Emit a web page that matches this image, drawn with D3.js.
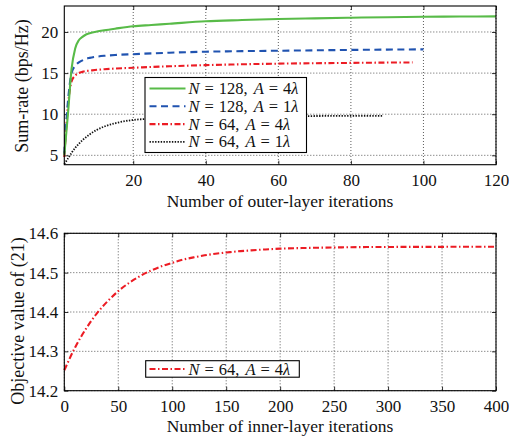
<!DOCTYPE html>
<html><head><meta charset="utf-8">
<script src="https://cdn.jsdelivr.net/npm/d3@7"></script>
<style>
body{margin:0;background:#fff;}
svg{display:block;font-family:"Liberation Serif","Times New Roman",serif;}
</style></head>
<body>
<svg id="c" width="509" height="436"></svg>
<script>
// ---------- data (top panel) ----------
const xGreen = [1,2,3,4,5,6,7,8,10,12,15,20,25,30,40,50,60,70,80,90,100,110,120];
const yGreen = [5.0,10.0,15.5,18.0,19.0,19.4,19.7,19.85,20.05,20.2,20.4,20.7,20.85,21.0,21.3,21.45,21.58,21.66,21.74,21.8,21.85,21.88,21.9];
const xBlue = [1,2,3,4,5,6,7,8,10,12,15,20,25,30,40,50,60,70,80,90,100];
const yBlue = [5.2,11.5,15.0,15.9,16.3,16.55,16.75,16.85,17.0,17.1,17.2,17.3,17.4,17.48,17.6,17.67,17.72,17.77,17.82,17.86,17.89];
const xRed = [1,2,3,4,5,6,7,8,10,12,15,20,25,30,40,50,60,70,80,90,97];
const yRed = [4.8,11.0,14.0,14.7,15.0,15.15,15.25,15.3,15.4,15.47,15.55,15.65,15.75,15.83,15.97,16.07,16.15,16.2,16.24,16.28,16.3];
const xBlack = [1,2,3,4,5,6,7,8,10,12,15,20,25,30,40,50,60,70,80,89];
const yBlack = [3.95,4.6,5.3,5.9,6.4,6.85,7.2,7.55,8.1,8.5,8.9,9.3,9.45,9.55,9.65,9.7,9.75,9.78,9.8,9.8];
const topXTicks = [20,40,60,80,100,120];
const topYTicks = [5,10,15,20];
const topLegend = [["N","128","4"],["N","128","1"],["N","64","4"],["N","64","1"]];

// ---------- data (bottom panel) ----------
const xInner = [0,10,20,30,40,50,60,70,80,90,100,110,120,130,140,150,160,170,180,190,200,220,240,260,280,300,350,400];
const yInner = [14.252,14.310,14.357,14.396,14.427,14.453,14.474,14.491,14.505,14.516,14.525,14.533,14.539,14.544,14.548,14.551,14.554,14.556,14.558,14.5595,14.561,14.5625,14.5636,14.5644,14.565,14.5653,14.5656,14.566];
const botXTicks = [0,50,100,150,200,250,300,350,400];
const botYTicks = [14.2,14.3,14.4,14.5,14.6];
const botLegend = [["N","64","4"]];

const svg = d3.select("#c");

function panel(cfg){
  const {L,R,T,B,xd,yd,xt,yt,yfmt} = cfg;
  const x = d3.scaleLinear().domain(xd).range([L,R]);
  const y = d3.scaleLinear().domain(yd).range([B,T]);
  const g = svg.append("g");
  g.append("rect").attr("x",L).attr("y",T).attr("width",R-L).attr("height",B-T).attr("fill","#fff");
  g.selectAll(".gx").data(xt).enter().append("line")
    .attr("x1",d=>x(d)).attr("x2",d=>x(d)).attr("y1",T).attr("y2",B)
    .attr("stroke","#333").attr("stroke-width",0.8).attr("stroke-dasharray","1,2");
  g.selectAll(".gy").data(yt).enter().append("line")
    .attr("y1",d=>y(d)).attr("y2",d=>y(d)).attr("x1",L).attr("x2",R)
    .attr("stroke","#333").attr("stroke-width",0.8).attr("stroke-dasharray","1,2");
  const ax = d3.axisBottom(x).tickValues(xt).tickSizeInner(-4).tickSizeOuter(0).tickPadding(9);
  const ay = d3.axisLeft(y).tickValues(yt).tickSizeInner(-4).tickSizeOuter(0).tickPadding(6).tickFormat(yfmt);
  const gx = g.append("g").attr("transform",`translate(0,${B})`).call(ax);
  const gy = g.append("g").attr("transform",`translate(${L},0)`).call(ay);
  const gx2 = g.append("g").attr("transform",`translate(0,${T})`).call(d3.axisTop(x).tickValues(xt).tickSizeInner(-4).tickSizeOuter(0).tickFormat(""));
  const gy2 = g.append("g").attr("transform",`translate(${R},0)`).call(d3.axisRight(y).tickValues(yt).tickSizeInner(-4).tickSizeOuter(0).tickFormat(""));
  [gx,gy,gx2,gy2].forEach(a=>{
    a.select(".domain").remove();
    a.selectAll("line").attr("stroke","#000").attr("stroke-width",0.8);
    a.selectAll("text").attr("font-size",17).attr("font-family","Liberation Serif").attr("fill","#111");
  });
  return {x,y,g};
}

function frame(L,R,T,B){
  svg.append("rect").attr("x",L).attr("y",T).attr("width",R-L).attr("height",B-T)
    .attr("fill","none").attr("stroke","#000").attr("stroke-width",1.1);
}

function mathLabel(sel, item){
  sel.append("tspan").attr("font-style","italic").text(item[0]);
  sel.append("tspan").attr("dx",5).text("=");
  sel.append("tspan").attr("dx",5).text(item[1] + ",");
  sel.append("tspan").attr("dx",6).attr("font-style","italic").text("A");
  sel.append("tspan").attr("dx",5).text("=");
  sel.append("tspan").attr("dx",5).text(item[2]);
  sel.append("tspan").attr("font-style","italic").text("λ");
}

const styles = [
  {c:"#58bb48", d:null, w:2.1},
  {c:"#2053b0", d:"7,4.5", w:2.1},
  {c:"#ec1c24", d:"6,2.5,1.5,2.5", w:2.1},
  {c:"#111", d:"1.4,1.4", w:1.8}
];

// ---------- top panel ----------
const P1 = panel({L:64.3,R:496,T:6,B:164.7,xd:[1,120],yd:[3.86,23.16],xt:topXTicks,yt:topYTicks,yfmt:d3.format("d")});
const series = [[xGreen,yGreen],[xBlue,yBlue],[xRed,yRed],[xBlack,yBlack]];
const line1 = d3.line().x(d=>P1.x(d[0])).y(d=>P1.y(d[1])).curve(d3.curveMonotoneX);
series.slice().reverse().forEach((s,ri)=>{
  const i = series.length-1-ri;
  const pts = s[0].map((v,k)=>[v,s[1][k]]);
  P1.g.append("path").datum(pts).attr("d",line1).attr("fill","none")
    .attr("stroke",styles[i].c).attr("stroke-width",styles[i].w)
    .attr("stroke-dasharray",styles[i].d);
});
const lg1 = svg.append("g");
lg1.append("rect").attr("x",145).attr("y",77.5).attr("width",161.5).attr("height",75)
  .attr("fill","#fff").attr("stroke","#000").attr("stroke-width",1.1);
topLegend.forEach((item,i)=>{
  const cy = 88.5 + i*17.8;
  lg1.append("line").attr("x1",149.5).attr("x2",185.5).attr("y1",cy).attr("y2",cy)
    .attr("stroke",styles[i].c).attr("stroke-width",styles[i].w).attr("stroke-dasharray",styles[i].d);
  const t = lg1.append("text").attr("x",188.5).attr("y",cy+5.5).attr("font-size",16.5).attr("fill","#111");
  mathLabel(t,item);
});
frame(64.3,496,6,164.7);
svg.append("text").attr("x",280).attr("y",207).attr("text-anchor","middle").attr("font-size",17.5).attr("fill","#111")
  .text("Number of outer-layer iterations");
svg.append("text").attr("transform","translate(28,86) rotate(-90)").attr("text-anchor","middle").attr("font-size",18).attr("fill","#111")
  .text("Sum-rate (bps/Hz)");

// ---------- bottom panel ----------
const P2 = panel({L:64.3,R:496,T:233.3,B:390.7,xd:[0,400],yd:[14.2,14.6],xt:botXTicks,yt:botYTicks,yfmt:d3.format(".1f")});
const line2 = d3.line().x(d=>P2.x(d[0])).y(d=>P2.y(d[1])).curve(d3.curveMonotoneX);
P2.g.append("path").datum(xInner.map((v,k)=>[v,yInner[k]])).attr("d",line2).attr("fill","none")
  .attr("stroke",styles[2].c).attr("stroke-width",2.1).attr("stroke-dasharray",styles[2].d);
const lg2 = svg.append("g");
lg2.append("rect").attr("x",145.7).attr("y",360.7).attr("width",153.6).attr("height",16.5)
  .attr("fill","#fff").attr("stroke","#000").attr("stroke-width",1.1);
botLegend.forEach((item)=>{
  const cy = 369;
  lg2.append("line").attr("x1",149.5).attr("x2",185.5).attr("y1",cy).attr("y2",cy)
    .attr("stroke",styles[2].c).attr("stroke-width",2.1).attr("stroke-dasharray",styles[2].d);
  const t = lg2.append("text").attr("x",188.5).attr("y",cy+5.5).attr("font-size",16.5).attr("fill","#111");
  mathLabel(t,item);
});
frame(64.3,496,233.3,390.7);
svg.append("text").attr("x",280).attr("y",432).attr("text-anchor","middle").attr("font-size",17.5).attr("fill","#111")
  .text("Number of inner-layer iterations");
svg.append("text").attr("transform","translate(24,321) rotate(-90)").attr("text-anchor","middle").attr("font-size",18).attr("fill","#111")
  .text("Objective value of (21)");
</script>
</body></html>
